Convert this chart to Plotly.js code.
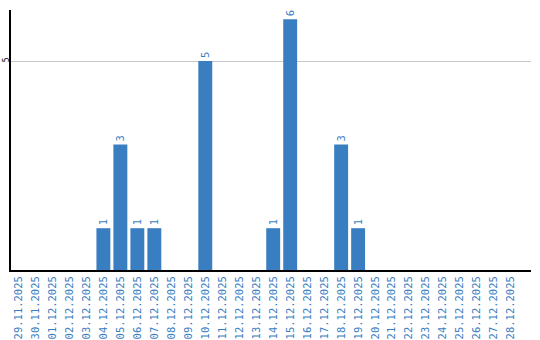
<!DOCTYPE html>
<html>
<head>
<meta charset="utf-8">
<script src="https://cdn.plot.ly/plotly-3.0.1.min.js"></script>
<style>html,body{margin:0;padding:0;background:#fff;}#chart{width:540px;height:340px;}</style>
</head>
<body>
<div id="chart"></div>
<script>
const dates = ["29.11.2025","30.11.2025","01.12.2025","02.12.2025","03.12.2025","04.12.2025","05.12.2025","06.12.2025","07.12.2025","08.12.2025","09.12.2025","10.12.2025","11.12.2025","12.12.2025","13.12.2025","14.12.2025","15.12.2025","16.12.2025","17.12.2025","18.12.2025","19.12.2025","20.12.2025","21.12.2025","22.12.2025","23.12.2025","24.12.2025","25.12.2025","26.12.2025","27.12.2025","28.12.2025"];
const counts = [0,0,0,0,0,1,3,1,1,0,0,5,0,0,0,1,6,0,0,3,1,0,0,0,0,0,0,0,0,0];
const labels = counts.map(v => v > 0 ? String(v) : "");
const yTicks = [5];
const blue = "rgb(58,126,194)";

const trace = {
  type: "bar",
  x: dates,
  y: counts,
  text: labels,
  textposition: "outside",
  textangle: -90,
  constraintext: "none",
  cliponaxis: false,
  textfont: {family: "DejaVu Sans Mono", size: 10.5, color: blue},
  marker: {color: blue},
  hoverinfo: "none"
};

const layout = {
  width: 540, height: 340,
  margin: {l: 10.5, r: 9, t: 10, b: 70, pad: 0},
  paper_bgcolor: "#fff", plot_bgcolor: "#fff",
  showlegend: false,
  bargap: 0.18,
  xaxis: {
    type: "category",
    range: [-0.44, 30.18],
    tickangle: -90,
    tickfont: {family: "DejaVu Sans Mono", size: 10.5, color: blue},
    showgrid: false,
    showline: true, linecolor: "#000", linewidth: 2,
    ticks: "", ticklen: 0,
    zeroline: false,
    fixedrange: true
  },
  yaxis: {
    range: [0, 6.22],
    tickvals: yTicks,
    ticktext: yTicks.map(String),
    tickangle: -90,
    tickfont: {family: "DejaVu Sans Mono", size: 8, color: "#000"},
    ticklabelstandoff: -3,
    showgrid: true, gridcolor: "#c8c8c8", gridwidth: 1,
    showline: true, linecolor: "#000", linewidth: 2,
    ticks: "", zeroline: false,
    fixedrange: true
  }
};

Plotly.newPlot("chart", [trace], layout, {displayModeBar: false, staticPlot: true});
</script>
</body>
</html>
